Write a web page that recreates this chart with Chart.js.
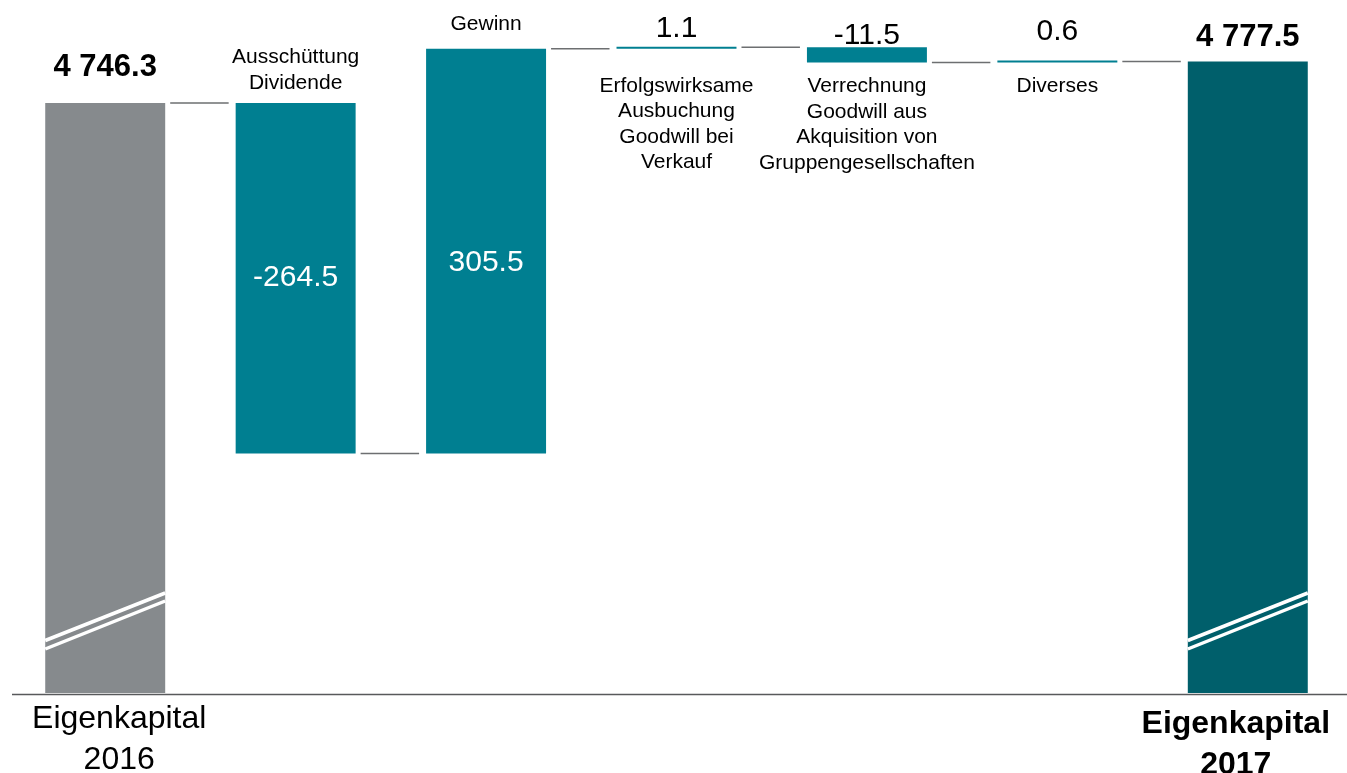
<!DOCTYPE html>
<html>
<head>
<meta charset="utf-8">
<script src="https://cdn.jsdelivr.net/npm/chart.js@4.4.1/dist/chart.umd.min.js"></script>
<style>
    html, body { margin: 0; padding: 0; background: #ffffff; }
    #wrap { width: 1347px; height: 773px; }
</style>
</head>
<body>
<div id="wrap"><canvas id="bridgeChart" width="1347" height="773"></canvas></div>
<script>
// --- data (CHF m) ---
const categories = [
    ['Eigenkapital', '2016'],
    ['Ausschüttung', 'Dividende'],
    ['Gewinn'],
    ['Erfolgswirksame', 'Ausbuchung', 'Goodwill bei', 'Verkauf'],
    ['Verrechnung', 'Goodwill aus', 'Akquisition von', 'Gruppengesellschaften'],
    ['Diverses'],
    ['Eigenkapital', '2017']
];
const openingEquity = 4746.3;
const movements = [-264.5, 305.5, 1.1, -11.5, 0.6];
const closingEquity = 4777.5;

// broken value axis: bars start at the floor, not at zero
const axisFloor = 4301;
const axisCeil = 4824;

// build floating ranges + running levels for the connectors
const ranges = [[axisFloor, openingEquity]];
const levels = [openingEquity];
let running = openingEquity;
movements.forEach(m => {
    const next = running + m;
    ranges.push([Math.min(running, next), Math.max(running, next)]);
    levels.push(next);
    running = next;
});
ranges.push([axisFloor, closingEquity]);
const shownValues = [openingEquity, ...movements, closingEquity];

const FONT = '"Liberation Sans", Arial, Helvetica, sans-serif';
const barColors = ['#868a8d', '#007f91', '#007f91', '#007f91', '#007f91', '#007f91', '#005f6b'];

// where each bar's texts go
const labelLayout = [
    { value: 'top', gap: 27, name: 'axis', shift: 14 },
    { value: 'inside', dy: 0, name: 'top', nameGap: 14 },
    { value: 'inside', dy: 12, name: 'top', nameGap: 19 },
    { value: 'top', gap: 10, name: 'below', nameGap: 43 },
    { value: 'top', gap: 3, name: 'below', nameGap: 30 },
    { value: 'top', gap: 20, name: 'below', nameGap: 30 },
    { value: 'top', gap: 16, name: 'axis', shift: -12, bold: true }
];

function fmt(v) {
    const parts = Math.abs(v).toFixed(1).split('.');
    const whole = parts[0].replace(/\B(?=(\d{3})+(?!\d))/g, ' ');
    return (v < 0 ? '-' : '') + whole + '.' + parts[1];
}

const bridgeDecor = {
    id: 'bridgeDecor',
    afterDatasetsDraw(chart) {
        const ctx = chart.ctx;
        const meta = chart.getDatasetMeta(0);
        const yScale = chart.scales.y;
        const area = chart.chartArea;
        const bars = meta.data;
        const last = bars.length - 1;

        ctx.save();

        // connector lines between bars
        ctx.strokeStyle = '#6d6f71';
        ctx.lineWidth = 1.5;
        for (let i = 0; i < last; i++) {
            const a = bars[i], b = bars[i + 1];
            const yy = yScale.getPixelForValue(levels[i]);
            ctx.beginPath();
            ctx.moveTo(a.x + a.width / 2 + 5, yy);
            ctx.lineTo(b.x - b.width / 2 - 7, yy);
            ctx.stroke();
        }

        // axis-break marks on the two totals
        ctx.strokeStyle = '#ffffff';
        ctx.lineWidth = 3.5;
        [0, last].forEach(i => {
            const bar = bars[i];
            const l = bar.x - bar.width / 2, r = bar.x + bar.width / 2;
            const bottom = Math.max(bar.y, bar.base);
            [[52.5, 100], [44, 92]].forEach(([dl, dr]) => {
                ctx.beginPath();
                ctx.moveTo(l, bottom - dl);
                ctx.lineTo(r, bottom - dr);
                ctx.stroke();
            });
        });

        // baseline
        ctx.strokeStyle = '#58595b';
        ctx.lineWidth = 1.5;
        ctx.beginPath();
        ctx.moveTo(12, area.bottom + 1.5);
        ctx.lineTo(chart.width, area.bottom + 1.5);
        ctx.stroke();

        // texts
        ctx.textAlign = 'center';
        ctx.textBaseline = 'alphabetic';
        bars.forEach((bar, i) => {
            const lay = labelLayout[i];
            const top = Math.min(bar.y, bar.base);
            const bottom = Math.max(bar.y, bar.base);
            const isTotal = lay.name === 'axis';

            // value
            if (lay.value === 'inside') {
                ctx.fillStyle = '#ffffff';
                ctx.font = '30px ' + FONT;
                ctx.textBaseline = 'middle';
                ctx.fillText(fmt(shownValues[i]), bar.x, (top + bottom) / 2 + lay.dy);
                ctx.textBaseline = 'alphabetic';
            } else {
                ctx.fillStyle = '#000000';
                ctx.font = (isTotal ? 'bold 31px ' : '30px ') + FONT;
                ctx.fillText(fmt(shownValues[i]), bar.x, top - lay.gap);
            }

            // category name
            const lines = categories[i];
            ctx.fillStyle = '#000000';
            if (lay.name === 'axis') {
                ctx.font = (lay.bold ? 'bold ' : '') + '32px ' + FONT;
                lines.forEach((t, k) => {
                    ctx.fillText(t, bar.x + lay.shift, area.bottom + (lay.bold ? 40 : 35) + k * 41);
                });
            } else if (lay.name === 'top') {
                ctx.font = '21px ' + FONT;
                lines.forEach((t, k) => {
                    ctx.fillText(t, bar.x, top - lay.nameGap - (lines.length - 1 - k) * 26);
                });
            } else {
                ctx.font = '21px ' + FONT;
                lines.forEach((t, k) => {
                    ctx.fillText(t, bar.x, bottom + lay.nameGap + k * 25.5);
                });
            }
        });

        ctx.restore();
    }
};

new Chart(document.getElementById('bridgeChart'), {
    type: 'bar',
    data: {
        labels: categories.map(c => c.join(' ')),
        datasets: [{
            data: ranges,
            backgroundColor: barColors,
            borderWidth: 0,
            barPercentage: 0.63,
            categoryPercentage: 1,
            minBarLength: 2
        }]
    },
    options: {
        responsive: false,
        devicePixelRatio: 1,
        animation: false,
        layout: { padding: { left: 10, right: 4, top: 0, bottom: 80 } },
        scales: {
            x: { display: false },
            y: { display: false, min: axisFloor, max: axisCeil }
        },
        plugins: {
            legend: { display: false },
            tooltip: { enabled: false }
        }
    },
    plugins: [bridgeDecor]
});
</script>
</body>
</html>
